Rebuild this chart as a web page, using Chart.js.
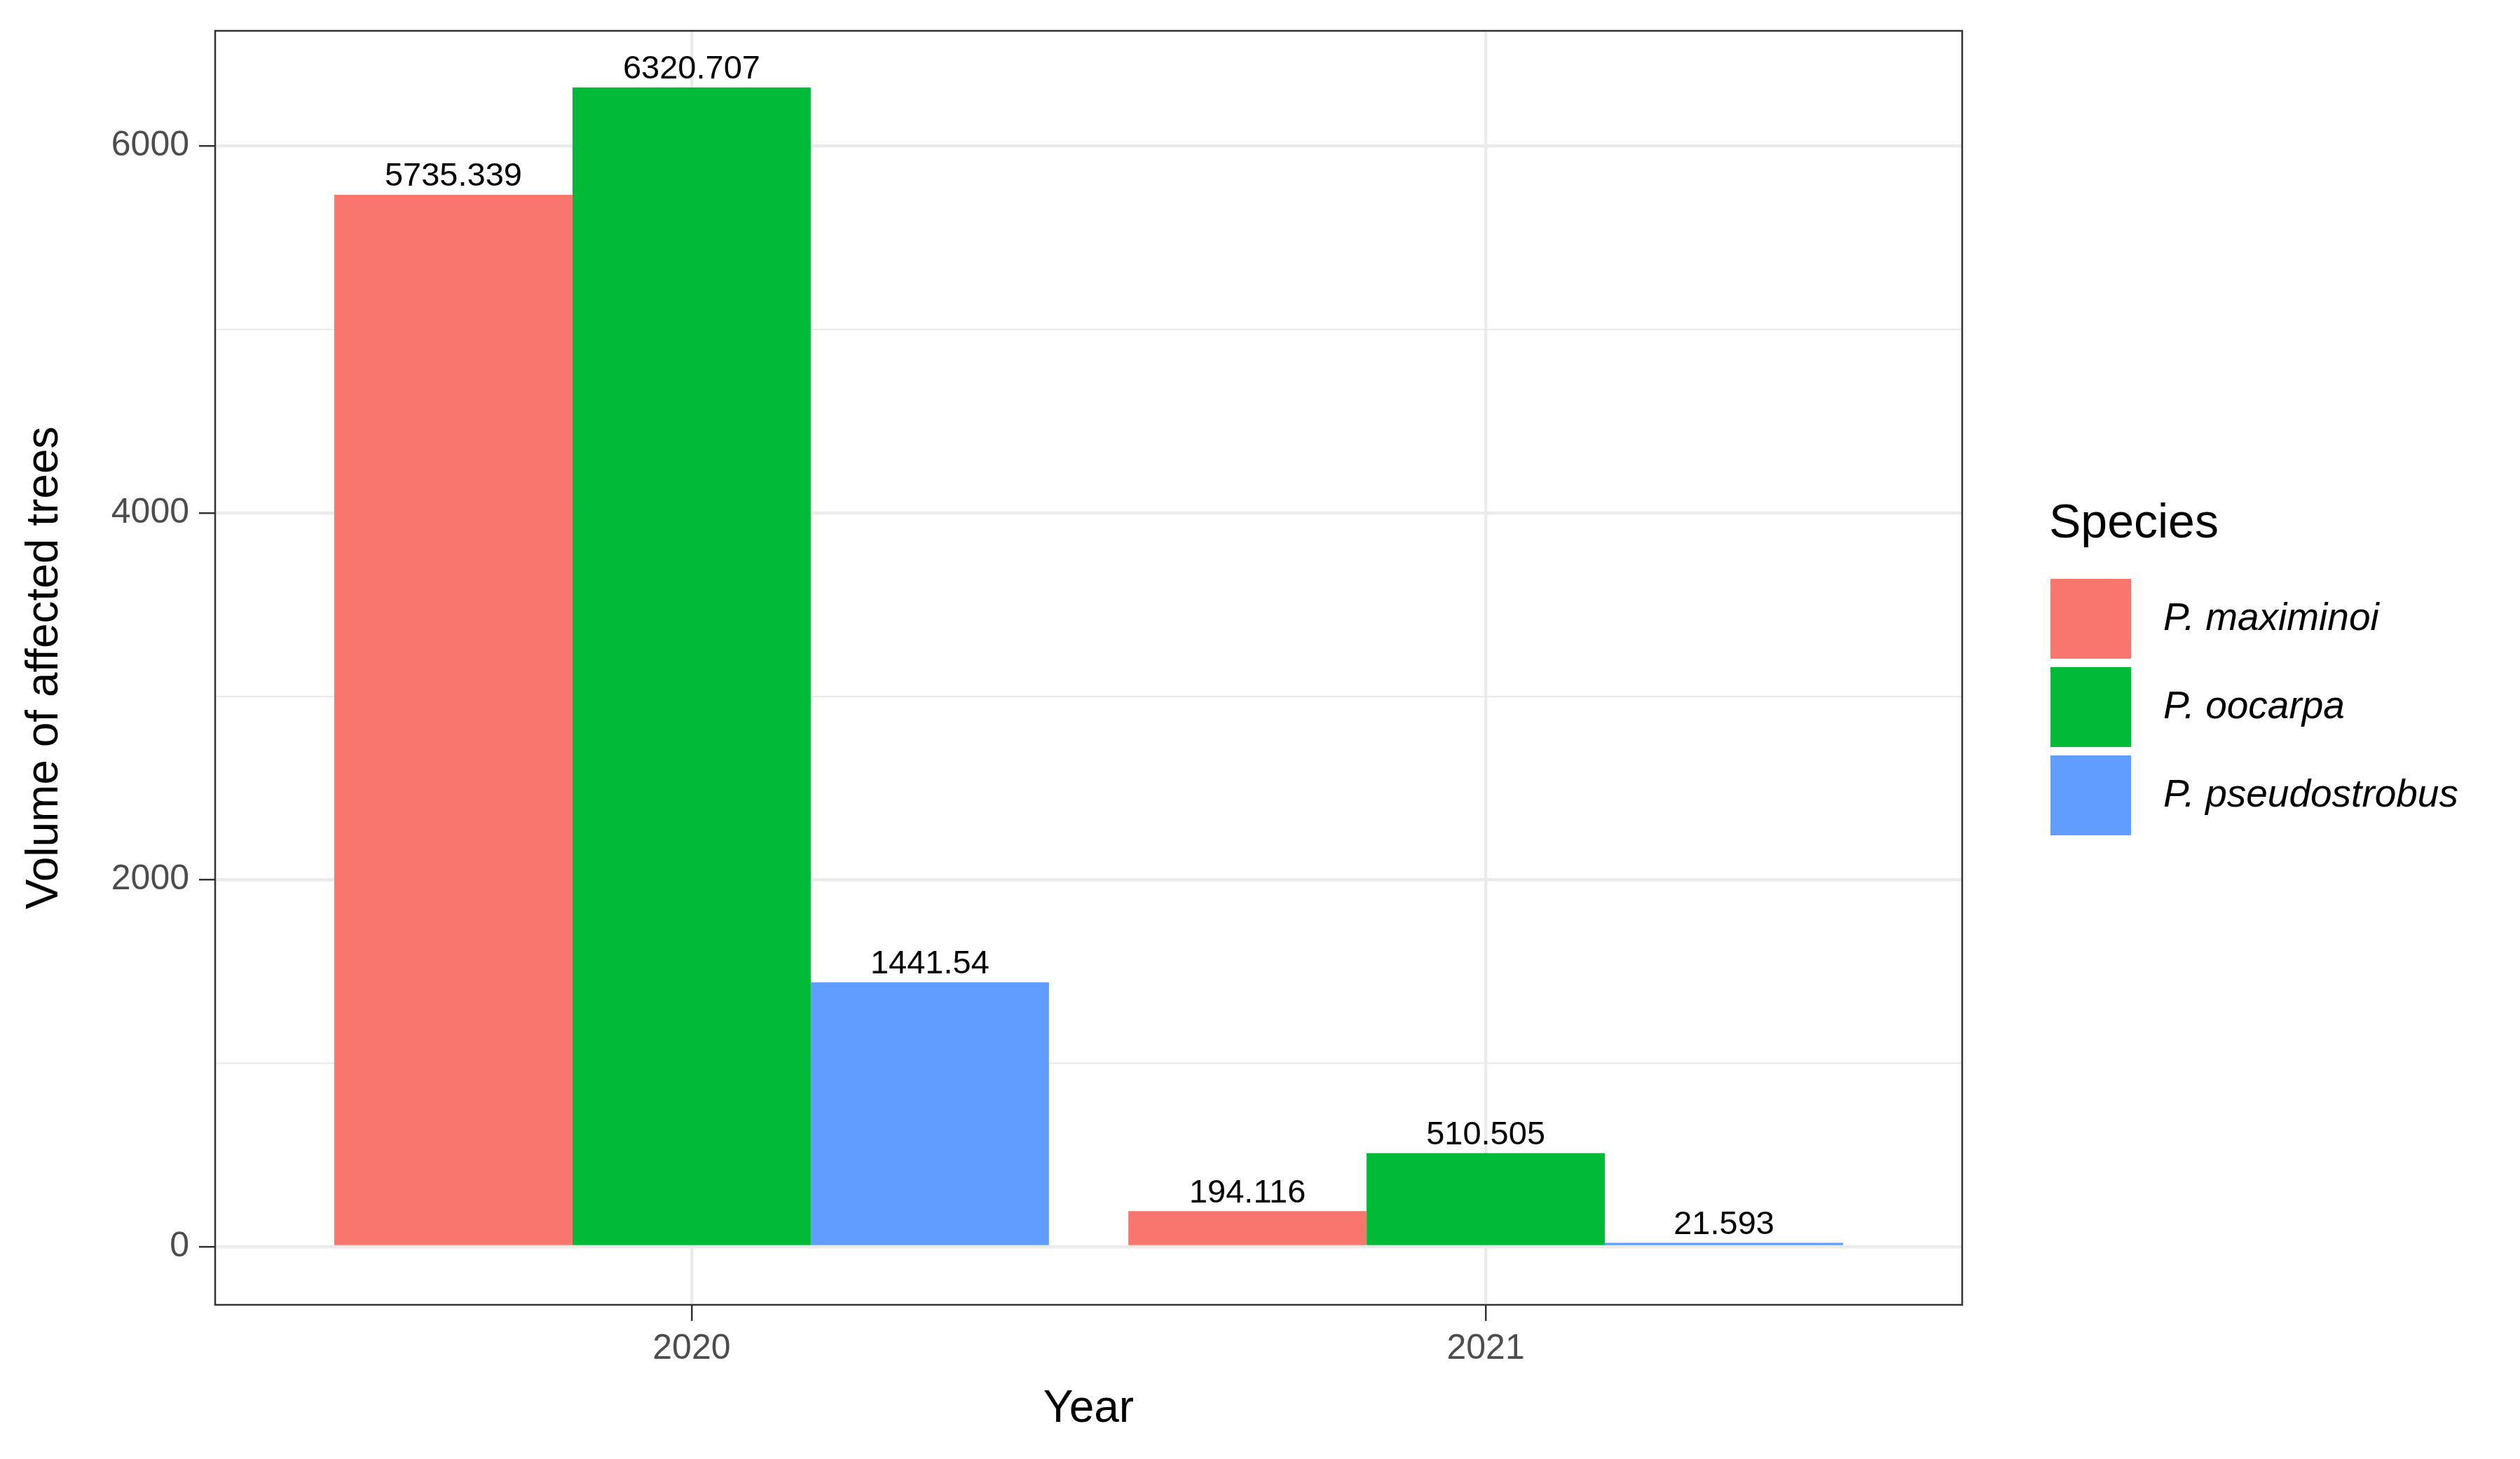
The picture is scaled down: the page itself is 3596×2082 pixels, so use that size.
<!DOCTYPE html>
<html>
<head>
<meta charset="utf-8">
<script src="https://cdn.jsdelivr.net/npm/chart.js@4.4.1/dist/chart.umd.min.js"></script>
<style>
  html, body { margin: 0; padding: 0; background: #fff; }
  #wrap { width: 3596px; height: 2082px; }
</style>
</head>
<body>
<div id="wrap"><canvas id="myChart" width="3596" height="2082"></canvas></div>
<script>
    'use strict';
    var years = ['2020', '2021'];
    var species = ['P. maximinoi', 'P. oocarpa', 'P. pseudostrobus'];
    var colors = ['#F8766D', '#00BA38', '#619CFF'];
    var maximinoi = [5735.339, 194.116];
    var oocarpa = [6320.707, 510.505];
    var pseudostrobus = [1441.54, 21.593];
    var yTicks = [0, 2000, 4000, 6000];

    var font = 'Liberation Sans, Arial, sans-serif';
    var seriesValues = [maximinoi, oocarpa, pseudostrobus];

    var datasets = species.map(function (name, i) {
        return {
            label: name,
            data: seriesValues[i].map(function (v, j) { return { x: j + 1, y: v }; }),
            backgroundColor: colors[i],
            borderWidth: 0,
            categoryPercentage: 0.9,
            barPercentage: 1.0
        };
    });

    var extras = {
        id: 'extras',
        afterDatasetsDraw: function (chart) {
            var ctx = chart.ctx;
            ctx.save();
            // value labels
            ctx.fillStyle = '#000';
            ctx.font = '47px ' + font;
            ctx.textAlign = 'center';
            ctx.textBaseline = 'bottom';
            chart.data.datasets.forEach(function (ds, i) {
                chart.getDatasetMeta(i).data.forEach(function (bar, j) {
                    ctx.fillText(String(seriesValues[i][j]), bar.x, bar.y - 2);
                });
            });
            // panel border
            var a = chart.chartArea;
            ctx.strokeStyle = '#333333';
            ctx.lineWidth = 2.5;
            ctx.strokeRect(a.left, a.top, a.right - a.left, a.bottom - a.top);
            // axis titles
            ctx.fillStyle = '#000';
            ctx.font = '64px ' + font;
            ctx.textBaseline = 'middle';
            ctx.fillText('Year', (a.left + a.right) / 2, 2011);
            ctx.save();
            ctx.translate(64, (a.top + a.bottom) / 2);
            ctx.rotate(-Math.PI / 2);
            ctx.fillText('Volume of affected trees', 0, 0);
            ctx.restore();
            // legend
            ctx.textAlign = 'left';
            ctx.font = '68px ' + font;
            ctx.fillText('Species', 2924, 748);
            ctx.font = 'italic 55px ' + font;
            species.forEach(function (name, i) {
                var y = 826 + i * 126;
                ctx.fillStyle = colors[i];
                ctx.fillRect(2926, y, 115, 114);
                ctx.fillStyle = '#000';
                ctx.fillText(name, 3087, y + 58);
            });
            ctx.restore();
        }
    };

    var chart = new Chart(document.getElementById('myChart').getContext('2d'), {
        type: 'bar',
        data: { datasets: datasets },
        plugins: [extras],
        options: {
            responsive: false,
            animation: false,
            layout: { padding: { top: 41, right: 796, left: 0, bottom: 0 } },
            plugins: { legend: { display: false }, tooltip: { enabled: false } },
            scales: {
                x: {
                    type: 'linear',
                    min: 0.4,
                    max: 2.6,
                    offset: false,
                    afterBuildTicks: function (s) { s.ticks = years.map(function (y, i) { return { value: i + 1 }; }); },
                    afterFit: function (s) { s.height = 220; },
                    border: { display: false },
                    grid: { offset: false, color: '#ebebeb', lineWidth: 4.5, tickColor: '#333333', tickLength: 23, tickWidth: 2.5 },
                    ticks: {
                        autoSkip: false,
                        maxRotation: 0,
                        padding: 10,
                        color: '#4d4d4d',
                        font: { family: font, size: 50 },
                        callback: function (v) { return years[v - 1]; }
                    }
                },
                y: {
                    min: -317,
                    max: 6629,
                    afterBuildTicks: function (s) {
                        s.ticks = [0, 1000, 2000, 3000, 4000, 5000, 6000].map(function (v) { return { value: v }; });
                    },
                    afterFit: function (s) { s.width = 307; },
                    border: { display: false },
                    grid: {
                        color: '#ebebeb',
                        lineWidth: function (c) { return yTicks.indexOf(c.tick.value) >= 0 ? 4.5 : 2.3; },
                        tickColor: function (c) { return yTicks.indexOf(c.tick.value) >= 0 ? '#333333' : 'rgba(0,0,0,0)'; },
                        tickLength: 23,
                        tickWidth: 2.5
                    },
                    ticks: {
                        padding: 14,
                        color: '#4d4d4d',
                        font: { family: font, size: 50 },
                        callback: function (v) { return yTicks.indexOf(v) >= 0 ? String(v) : ''; }
                    }
                }
            }
        }
    });
</script>
</body>
</html>
